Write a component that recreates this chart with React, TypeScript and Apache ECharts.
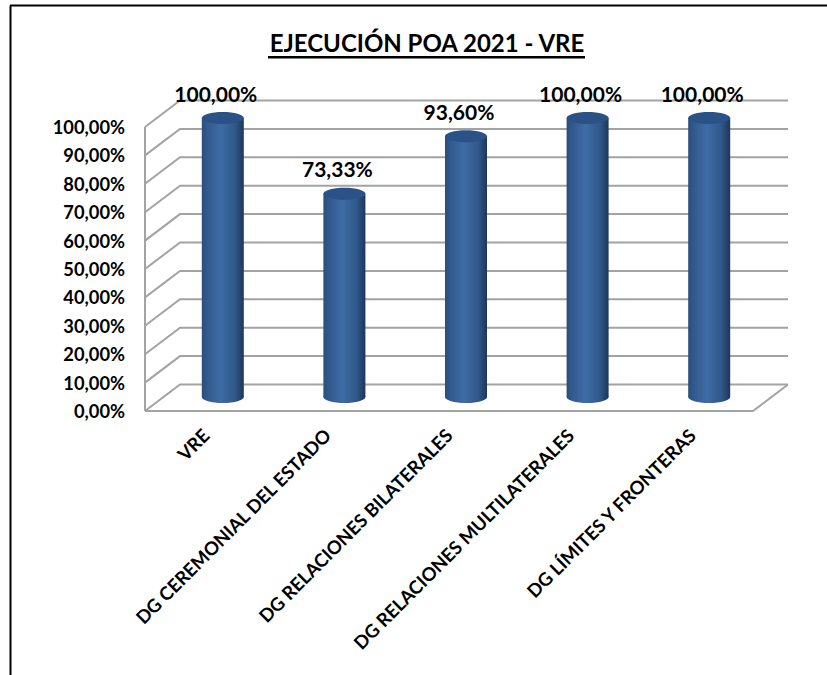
import React, { useEffect, useRef } from "react";
import * as echarts from "echarts";

const titleText = "EJECUCIÓN POA 2021 - VRE";
const categories = [
  "VRE",
  "DG CEREMONIAL DEL ESTADO",
  "DG RELACIONES BILATERALES",
  "DG RELACIONES MULTILATERALES",
  "DG LÍMITES Y FRONTERAS",
];
const values = [100, 73.33, 93.6, 100, 100];
const ticks = [0, 10, 20, 30, 40, 50, 60, 70, 80, 90, 100];

const FONT = "Lato";
const GREY = "#a3a3a3";
const DX = 35;
const DY = 26.5;

const fmt = (v: number) => v.toFixed(2).replace(".", ",") + "%";

const bodyFill = new echarts.graphic.LinearGradient(0, 0, 1, 0, [
  { offset: 0, color: "#2a4d7c" },
  { offset: 0.12, color: "#31598d" },
  { offset: 0.45, color: "#3f6ca5" },
  { offset: 0.8, color: "#2f5789" },
  { offset: 1, color: "#1d3657" },
]);

function renderWall(params: any, api: any) {
  const cs = params.coordSys;
  const y = api.coord([0, api.value(1)])[1];
  const left = cs.x;
  const right = cs.x + cs.width;
  const lineStyle = { stroke: GREY, lineWidth: 2, fill: "none" };
  const children: any[] = [
    {
      type: "polyline",
      shape: { points: [[left, y], [left + DX, y - DY], [right + DX, y - DY]] },
      style: lineStyle,
    },
  ];
  if (api.value(1) === 0) {
    children.push(
      {
        type: "polyline",
        shape: { points: [[left, y], [right, y], [right + DX, y - DY]] },
        style: lineStyle,
      },
      {
        type: "line",
        shape: { x1: left, y1: y, x2: left, y2: cs.y },
        style: { stroke: GREY, lineWidth: 2 },
      }
    );
  }
  return { type: "group", children };
}

function renderBar(params: any, api: any) {
  const idx = api.value(0);
  const val = api.value(1);
  const [cx0, top0] = api.coord([idx, val]);
  const [, base0] = api.coord([idx, 0]);
  const cx = cx0 + 17;
  const rx = 21;
  const ry = 6;
  const top = top0 - 9;
  const base = base0 - 14;
  return {
    type: "group",
    children: [
      { type: "ellipse", shape: { cx, cy: base, rx, ry }, style: { fill: bodyFill } },
      { type: "rect", shape: { x: cx - rx, y: top, width: rx * 2, height: base - top }, style: { fill: bodyFill } },
      { type: "ellipse", shape: { cx, cy: top, rx, ry }, style: { fill: "#2a5286" } },
      {
        type: "text",
        x: cx - 7,
        y: top - 25,
        style: {
          text: fmt(val),
          fill: "#000",
          font: `700 21px ${FONT}`,
          textAlign: "center",
          textVerticalAlign: "middle",
        },
      },
    ],
  };
}

export default function App() {
  const ref = useRef<HTMLDivElement>(null);
  useEffect(() => {
    const chart = echarts.init(ref.current!, undefined, { renderer: "svg" });
    chart.setOption({
      animation: false,
      backgroundColor: "#fff",
      grid: { left: 145, top: 127, width: 608, height: 284 },
      xAxis: {
        type: "category",
        data: categories,
        axisLine: { show: false },
        axisTick: { show: false },
        axisLabel: {
          rotate: 45,
          interval: 0,
          margin: 21,
          fontFamily: FONT,
          fontWeight: 700,
          fontSize: 18.5,
          color: "#000",
        },
      },
      yAxis: {
        type: "value",
        min: 0,
        max: 100,
        interval: 10,
        splitLine: { show: false },
        axisLine: { show: false },
        axisTick: { show: false },
        axisLabel: {
          margin: 20,
          fontFamily: FONT,
          fontWeight: 700,
          fontSize: 18.3,
          color: "#000",
          formatter: (v: number) => fmt(v),
        },
      },
      title: {
        text: titleText,
        left: 422,
        top: 25,
        textAlign: "center",
        textStyle: { fontFamily: FONT, fontWeight: 700, fontSize: 24, color: "#000" },
      },
      graphic: [
        { type: "rect", shape: { x: 268, y: 56, width: 317, height: 2.5 }, style: { fill: "#000" } },
        { type: "line", shape: { x1: 10.5, y1: 5.5, x2: 10.5, y2: 675 }, style: { stroke: "#000", lineWidth: 2 } },
        { type: "line", shape: { x1: 10, y1: 5.5, x2: 827, y2: 5.5 }, style: { stroke: "#000", lineWidth: 2 } },
      ],
      series: [
        {
          type: "custom",
          renderItem: renderWall,
          data: ticks.map((t) => [0, t]),
          encode: { x: 0, y: 1 },
          clip: false,
          silent: true,
          z: 1,
        },
        {
          type: "custom",
          renderItem: renderBar,
          data: values.map((v, i) => [i, v]),
          encode: { x: 0, y: 1 },
          clip: false,
          silent: true,
          z: 2,
        },
      ],
    });
    return () => chart.dispose();
  }, []);
  return <div ref={ref} style={{ position: "fixed", left: 0, top: 0, width: 827, height: 675 }} />;
}
